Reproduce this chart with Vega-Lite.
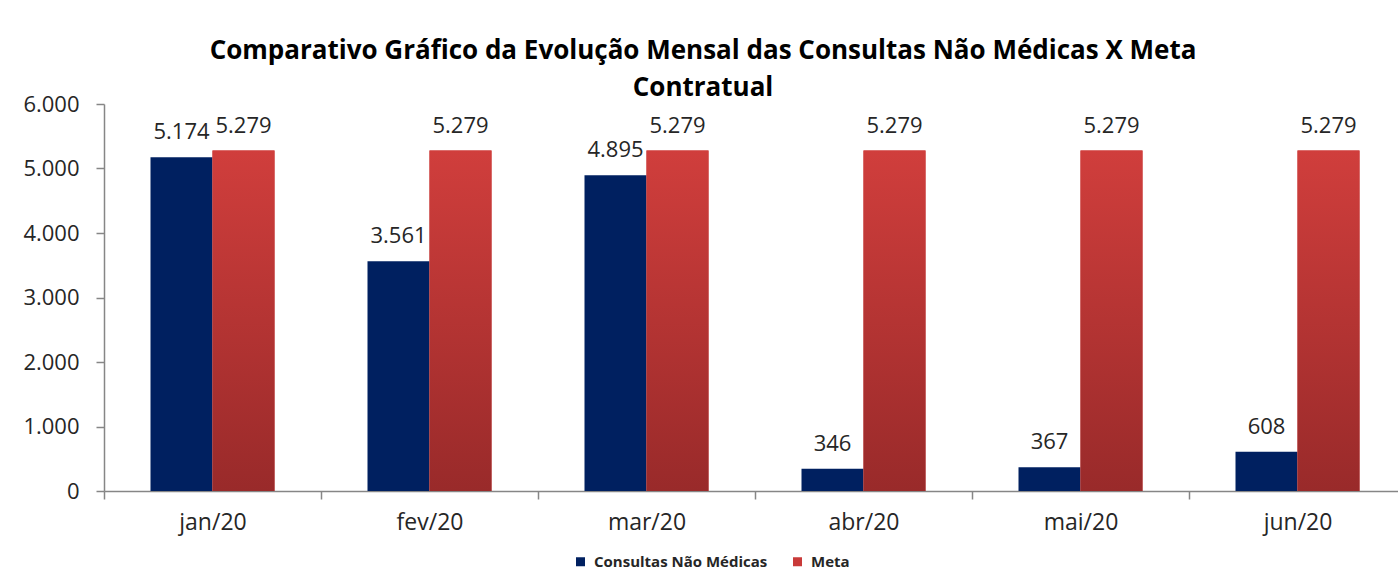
{
  "$schema": "https://vega.github.io/schema/vega-lite/v6.json",
  "width": 1302,
  "height": 387,
  "autosize": {"type": "none"},
  "padding": {"left": 104, "top": 104, "right": 0, "bottom": 97},
  "background": "white",
  "title": {
    "text": ["Comparativo Gráfico da Evolução Mensal das Consultas Não Médicas X Meta", "Contratual"],
    "font": "Open Sans",
    "fontSize": 26,
    "fontWeight": "bold",
    "color": "#000000",
    "lineHeight": 37,
    "anchor": "middle",
    "dx": -52,
    "dy": 14,
    "offset": 6
  },
  "data": {
    "values": [
      {"mes": "jan/20", "serie": "Consultas Não Médicas", "valor": 5174},
      {"mes": "jan/20", "serie": "Meta", "valor": 5279},
      {"mes": "fev/20", "serie": "Consultas Não Médicas", "valor": 3561},
      {"mes": "fev/20", "serie": "Meta", "valor": 5279},
      {"mes": "mar/20", "serie": "Consultas Não Médicas", "valor": 4895},
      {"mes": "mar/20", "serie": "Meta", "valor": 5279},
      {"mes": "abr/20", "serie": "Consultas Não Médicas", "valor": 346},
      {"mes": "abr/20", "serie": "Meta", "valor": 5279},
      {"mes": "mai/20", "serie": "Consultas Não Médicas", "valor": 367},
      {"mes": "mai/20", "serie": "Meta", "valor": 5279},
      {"mes": "jun/20", "serie": "Consultas Não Médicas", "valor": 608},
      {"mes": "jun/20", "serie": "Meta", "valor": 5279}
    ]
  },
  "encoding": {
    "x": {
      "field": "mes",
      "type": "nominal",
      "sort": ["jan/20", "fev/20", "mar/20", "abr/20", "mai/20", "jun/20"],
      "scale": {"paddingInner": 0, "paddingOuter": 0},
      "axis": {
        "title": null,
        "labelAngle": 0,
        "tickBand": "extent",
        "domainColor": "#868686",
        "tickColor": "#868686",
        "domainWidth": 1.5,
        "tickWidth": 1.5,
        "tickSize": 8,
        "labelFont": "Open Sans",
        "labelFontSize": 23,
        "labelColor": "#262626",
        "labelPadding": 12
      }
    },
    "xOffset": {
      "field": "serie",
      "type": "nominal",
      "scale": {"paddingInner": 0, "paddingOuter": 0.75}
    },
    "y": {
      "field": "valor",
      "type": "quantitative",
      "scale": {"domain": [0, 6000]},
      "axis": {
        "title": null,
        "grid": false,
        "values": [0, 1000, 2000, 3000, 4000, 5000, 6000],
        "format": ",d",
        "domainColor": "#868686",
        "tickColor": "#868686",
        "domainWidth": 1.5,
        "tickWidth": 1.5,
        "tickSize": 8,
        "labelFont": "Open Sans",
        "labelFontSize": 22,
        "labelColor": "#262626",
        "labelPadding": 17
      }
    }
  },
  "layer": [
    {
      "mark": {"type": "bar"},
      "encoding": {
        "color": {
          "field": "serie",
          "type": "nominal",
          "scale": {"domain": ["Consultas Não Médicas", "Meta"], "range": ["#002060", "#C93A39"]},
          "legend": {
            "title": null,
            "orient": "none",
            "legendX": 469,
            "legendY": 450,
            "direction": "horizontal",
            "symbolType": "square",
            "symbolSize": 81,
            "symbolStrokeWidth": 0,
            "labelFont": "Open Sans",
            "labelFontSize": 15,
            "labelFontWeight": "bold",
            "labelColor": "#262626",
            "labelLimit": 400,
            "labelOffset": 6,
            "columnPadding": 22
          }
        }
      }
    },
    {
      "transform": [{"filter": "datum.serie === 'Meta'"}],
      "mark": {
        "type": "bar",
        "fill": {
          "gradient": "linear",
          "x1": 0, "y1": 0, "x2": 0, "y2": 1,
          "stops": [
            {"offset": 0, "color": "#D03E3C"},
            {"offset": 1, "color": "#992A2A"}
          ]
        }
      }
    },
    {
      "mark": {
        "type": "text",
        "baseline": "alphabetic",
        "dy": -18,
        "font": "Open Sans",
        "fontSize": 22,
        "color": "#262626"
      },
      "encoding": {
        "text": {"field": "valor", "type": "quantitative", "format": ",d"}
      }
    }
  ],
  "config": {
    "locale": {
      "number": {"decimal": ",", "thousands": ".", "grouping": [3], "currency": ["R$", ""]}
    },
    "view": {"stroke": null}
  }
}
